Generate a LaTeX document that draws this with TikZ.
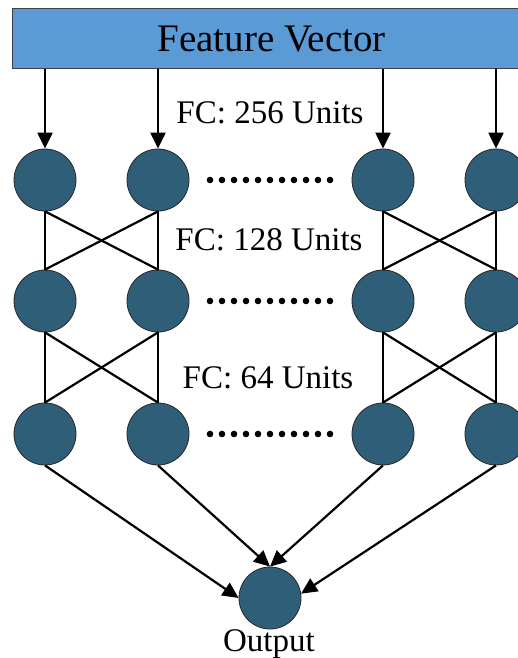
\documentclass[tikz,border=0pt]{standalone}
\usepackage{fontspec}
\setmainfont{Liberation Serif}
\usetikzlibrary{arrows.meta}
\definecolor{boxblue}{RGB}{91,155,213}
\definecolor{neuron}{RGB}{47,95,120}
\begin{document}
\begin{tikzpicture}[x=1pt,y=-1pt,
  neu/.style={circle,draw=black!85,line width=0.8pt,fill=neuron,minimum size=62pt,inner sep=0pt},
  conn/.style={line width=2.2pt},
  arr/.style={line width=2.2pt,-{Triangle[length=16pt,width=15pt]}},
  lbl/.style={font=\fontsize{33}{36}\selectfont,anchor=base},
  dotrow/.style={fill=black}]
\useasboundingbox (0,0) rectangle (518,658);
\clip (0,0) rectangle (518,658);
% feature vector box
\node[draw=black!75,fill=boxblue,line width=1.2pt,minimum width=518pt,minimum height=60pt,
      inner sep=0pt,anchor=north west,font=\fontsize{39}{42}\selectfont] (fv) at (12,8) {Feature Vector};
% neurons
\foreach \r/\y in {1/180,2/301,3/434}{
  \foreach \c/\x in {1/45,2/158,3/383,4/496}{
    \node[neu] (n\r\c) at (\x,\y) {};
  }
  \foreach \i in {0,...,10}{
    \fill[dotrow] (210+12*\i,\y) circle (3.3pt);
  }
}
\node[neu] (out) at (270,598) {};
% input arrows
\foreach \c in {1,2,3,4}{
  \draw[arr] (n1\c |- fv.south) -- (n1\c.north);
}
% connections between layers
\foreach \r/\s in {1/2,2/3}{
  \foreach \a/\b in {1/2,3/4}{
    \draw[conn] (n\r\a.south) -- (n\s\a.north);
    \draw[conn] (n\r\b.south) -- (n\s\b.north);
    \draw[conn] (n\r\a.south) -- (n\s\b.north);
    \draw[conn] (n\r\b.south) -- (n\s\a.north);
  }
}
% output arrows
\draw[arr] (n31.south) -- (out.west);
\draw[arr] (n32.south) -- (out.north);
\draw[arr] (n33.south) -- (out.north);
\draw[arr] (n34.south) -- (out.8);
% labels
\node[lbl] (l1) at (270,124) {FC: 256 Units};
\node[lbl] (l2) at (269,250) {FC: 128 Units};
\node[lbl] (l3) at (268,388) {FC: 64 Units};
\node[lbl] (lo) at (269,651) {Output};
\end{tikzpicture}
\end{document}
